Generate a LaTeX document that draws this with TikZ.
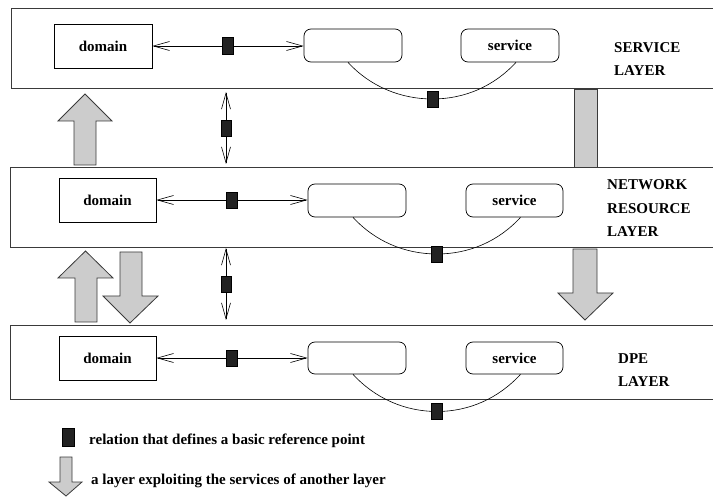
\documentclass[tikz,border=0pt]{standalone}
\usepackage{fontspec}
\setmainfont{Liberation Serif}
\usetikzlibrary{arrows.meta}
\definecolor{arrowgray}{HTML}{CCCCCC}
\definecolor{refblack}{HTML}{222222}
\definecolor{edgegray}{HTML}{3A3A3A}

\begin{document}
\begin{tikzpicture}[x=1pt,y=-1pt,
  every node/.style={font=\fontsize{15}{23.5}\selectfont\bfseries},
  layerbox/.style={draw=edgegray, line width=0.9pt, anchor=north west, inner sep=0pt,
                   minimum width=703pt},
  domainbox/.style={draw, line width=0.7pt, minimum width=97pt, minimum height=44pt, inner sep=0pt},
  svcbox/.style={draw, rounded corners=7pt, line width=0.7pt, minimum width=97pt,
                 minimum height=33pt, inner sep=0pt},
  refpt/.style={draw, fill=refblack, line width=0.5pt, minimum width=11pt,
                minimum height=16pt, inner sep=0pt},
  rel/.style={line width=0.6pt,
              {Straight Barb[length=16pt,width=9pt]}-{Straight Barb[length=16pt,width=9pt]}},
  arc/.style={line width=0.6pt},
  bigarrow/.style={draw=edgegray, fill=arrowgray, line width=0.8pt},
  layertitle/.style={anchor=base west, align=left, inner sep=0pt},
  legendtext/.style={anchor=base west, inner sep=0pt},
]
\useasboundingbox (0,0) rectangle (713,497);

% ---- broad grey arrows between the layers ----
\draw[bigarrow] (85,94) -- (112,121) -- (96,121) -- (96,165) -- (74,165) -- (74,121) -- (58,121) -- cycle;
\draw[bigarrow] (574,89.5) rectangle (597,167);
\draw[bigarrow] (85.5,251) -- (113,278) -- (97,278) -- (97,322) -- (75,322) -- (75,278) -- (58,278) -- cycle;
\draw[bigarrow] (120,252) -- (142,252) -- (142,296) -- (158,296) -- (130,323) -- (103,296) -- (120,296) -- cycle;
\draw[bigarrow] (573,249) -- (597,249) -- (597,293) -- (613,293) -- (585,320) -- (558,293) -- (573,293) -- cycle;

% ---- layers ----
\node[layerbox, minimum height=80pt] (L1) at (11,8) {};
\node[layerbox, minimum height=80pt] (L2) at (10,167) {};
\node[layerbox, minimum height=74pt] (L3) at (10,325) {};

% titles are anchored on the baseline of their last line
\node[layertitle] (t1) at (614,76) {SERVICE\\LAYER};
\node[layertitle] (t2) at (607,237) {NETWORK\\RESOURCE\\LAYER};
\node[layertitle] (t3) at (618,387) {DPE\\LAYER};

% ---- boxes inside each layer ----
\node[domainbox, minimum width=98pt] (d1) at (103,46) {domain};
\node[svcbox, minimum width=98pt] (r1) at (353,45.5) {};
\node[svcbox, minimum width=98pt] (s1) at (510,45.5) {service};

\node[domainbox] (d2) at (107.5,200) {domain};
\node[svcbox, minimum width=98pt] (r2) at (357,200.5) {};
\node[svcbox] (s2) at (514.5,200.5) {service};

\node[domainbox] (d3) at (107.5,358) {domain};
\node[svcbox, minimum width=98pt, minimum height=32pt] (r3) at (357,358) {};
\node[svcbox, minimum height=32pt] (s3) at (514.5,358) {service};

% ---- relations within the layers ----
\draw[rel] (d1.east) -- node[refpt, minimum height=17pt] (h1) {} (d1.east -| r1.west);
\draw[rel] (d2.east) -- node[refpt] (h2) {} (d2.east -| r2.west);
\draw[rel] (d3.east) -- node[refpt] (h3) {} (d3.east -| r3.west);

\coordinate (q1) at (432.5,99);
\coordinate (q2) at (437,254);
\coordinate (q3) at (437,411.5);
\draw[arc] ([xshift=-5pt]r1.south) .. controls +(22,24) and +(-32,0) .. (q1)
           .. controls +(32,0) and +(-22,24) .. ([xshift=6pt]s1.south);
\draw[arc] ([xshift=-4pt]r2.south) .. controls +(22,24) and +(-32,0) .. (q2)
           .. controls +(32,0) and +(-22,24) .. ([xshift=6pt]s2.south);
\draw[arc] ([xshift=-4pt]r3.south) .. controls +(22,24) and +(-32,0) .. (q3)
           .. controls +(32,0) and +(-22,24) .. ([xshift=6pt]s3.south);
\node[refpt] (a1) at (q1) {};
\node[refpt] (a2) at (q2) {};
\node[refpt] (a3) at (q3) {};

% ---- relations between the layers ----
\coordinate (v1a) at (226,92);
\coordinate (v1b) at (226,164);
\coordinate (v2a) at (226,248);
\coordinate (v2b) at (226,320);
\draw[rel] (v1a) -- node[refpt, minimum width=10pt] (b1) {} (v1b);
\draw[rel] (v2a) -- node[refpt, minimum width=10pt] (b2) {} (v2b);

% ---- legend ----
\node[refpt, minimum width=12pt, minimum height=18pt] (k1) at (68,437) {};
\node[legendtext] (k1t) at (89,444) {relation that defines a basic reference point};
\draw[bigarrow] (60,457) -- (72,457) -- (72,482) -- (82,482) -- (66,496) -- (49,482) -- (60,482) -- cycle;
\node[legendtext] (k2t) at (91,484) {a layer exploiting the services of another layer};
\end{tikzpicture}
\end{document}
